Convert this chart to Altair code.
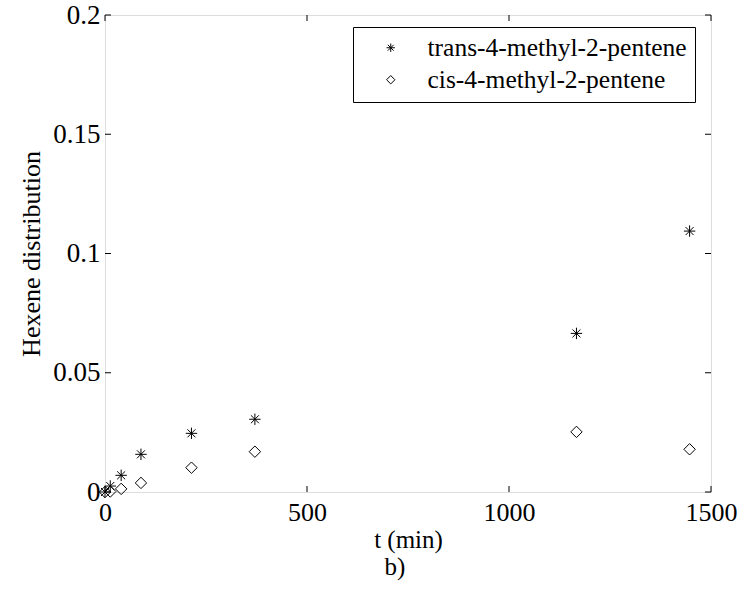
import altair as alt
import pandas as pd

# ---- data ----
t_min = [0, 13, 40, 89, 214, 371, 1167, 1447]
trans_vals = [0.0, 0.0025, 0.0070, 0.0158, 0.0246, 0.0305, 0.0665, 0.1094]
cis_vals = [0.0, 0.0002, 0.0013, 0.0038, 0.0102, 0.0169, 0.0252, 0.0179]
series_names = ["trans-4-methyl-2-pentene", "cis-4-methyl-2-pentene"]
x_ticks = [0, 500, 1000, 1500]
y_ticks = [0, 0.05, 0.1, 0.15, 0.2]

W, H = 606, 477
FONT = "Times New Roman, Liberation Serif, serif"
ASTERISK = "M0,-1L0,1M-1,0L1,0M-0.7,-0.7L0.7,0.7M-0.7,0.7L0.7,-0.7"

df = pd.DataFrame({
    "t": t_min + t_min,
    "v": trans_vals + cis_vals,
    "series": [series_names[0]] * len(t_min) + [series_names[1]] * len(t_min),
})
xt = pd.DataFrame({"t": x_ticks})
yt = pd.DataFrame({"v": y_ticks})

xs = alt.Scale(domain=[0, 1500], nice=False, zero=False)
ys = alt.Scale(domain=[0, 0.2], nice=False, zero=False)

xaxis = alt.Axis(values=x_ticks, format="d", title="t (min)", ticks=False, domain=False,
                 grid=False, labelFont=FONT, labelFontSize=26, labelColor="black",
                 labelPadding=7, titleFont=FONT, titleFontSize=25, titleFontWeight="normal",
                 titleColor="black", titlePadding=2, labelFlush=False)
yaxis = alt.Axis(values=y_ticks, format="~g", title="Hexene distribution", ticks=False,
                 domain=False, grid=False, labelFont=FONT, labelFontSize=27,
                 labelColor="black", labelPadding=5, titleFont=FONT, titleFontSize=26,
                 titleFontWeight="normal", titleColor="black", titlePadding=8,
                 labelFlush=False)

X = alt.X("t:Q", scale=xs, axis=xaxis)
Y = alt.Y("v:Q", scale=ys, axis=yaxis)

points = alt.Chart(df).mark_point(filled=False, color="black", strokeWidth=1, size=130, opacity=1).encode(
    x=X, y=Y,
    shape=alt.Shape("series:N",
                    scale=alt.Scale(domain=series_names, range=[ASTERISK, "diamond"]),
                    legend=alt.Legend(title=None, orient="none", legendX=248, legendY=12,
                                      strokeColor="black", fillColor="white", padding=8,
                                      labelFont=FONT, labelFontSize=25.5, labelColor="black",
                                      symbolSize=70, symbolStrokeWidth=1,
                                      symbolStrokeColor="black", symbolFillColor="transparent",
                                      rowPadding=5, symbolOffset=17, labelOffset=24,
                                      labelLimit=400)),
)

tick_len = 6
xb = alt.Chart(xt).mark_rule(color="black", strokeWidth=1).encode(
    x=X, y=alt.value(H), y2=alt.value(H - tick_len))
xtp = alt.Chart(xt).mark_rule(color="black", strokeWidth=1).encode(
    x=X, y=alt.value(0), y2=alt.value(tick_len))
yl = alt.Chart(yt).mark_rule(color="black", strokeWidth=1).encode(
    y=Y, x=alt.value(0), x2=alt.value(tick_len))
yr = alt.Chart(yt).mark_rule(color="black", strokeWidth=1).encode(
    y=Y, x=alt.value(W), x2=alt.value(W - tick_len))

chart = alt.layer(xb, xtp, yl, yr, points).properties(
    width=W, height=H,
    autosize=alt.AutoSizeParams(type="none"),
    padding={"left": 105, "top": 15, "right": 36, "bottom": 104},
    title=alt.TitleParams("b)", orient="bottom", font=FONT, fontSize=25,
                          fontWeight="normal", color="black", offset=3, dx=-13),
).configure_view(stroke="black", strokeWidth=2).configure(background="white")

chart.save("out.html", embed_options={"renderer": "svg", "actions": False})
